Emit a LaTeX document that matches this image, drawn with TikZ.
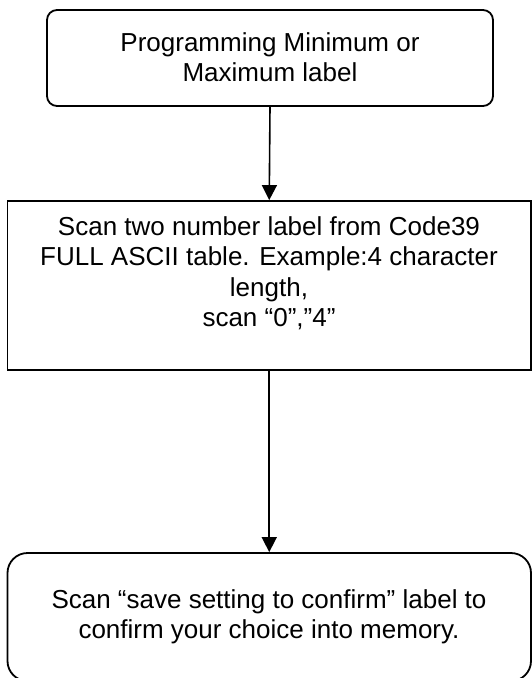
\documentclass[tikz,border=0pt]{standalone}
\usepackage{fontspec}
\setmainfont{Liberation Sans}
\usetikzlibrary{arrows.meta}
\begin{document}
\begin{tikzpicture}[x=1pt,y=-1pt,
  boxline/.style={draw=black, line width=1.8pt},
  txt/.style={align=center, inner sep=0pt, font=\fontsize{26}{30.5}\selectfont},
  conn/.style={draw=black, line width=1.6pt, -{Triangle[width=15pt,length=15pt]}}]
\useasboundingbox (0,0) rectangle (532,678);
\clip (0,0) rectangle (532,678);
\fill[white] (0,0) rectangle (532,678);
\node[boxline, rounded corners=10pt, minimum width=446pt, minimum height=96pt, inner sep=0pt] (b1) at (270,58) {};
\node[boxline, minimum width=523.5pt, minimum height=169pt, inner sep=0pt] (b2) at (269.25,285.5) {};
\node[boxline, rounded corners=20pt, minimum width=523.5pt, minimum height=128pt, inner sep=0pt] (b3) at (269.25,617) {};
\node[txt] (t1) at (270,57) {Programming Minimum or\\Maximum label};
\node[txt] (t2) at (269,273) {Scan two number label from Code39\\FULL ASCII table. Example:4 character\\length,\\scan “0”,”4”};
\node[txt] (t3) at (269,617) {Scan “save setting to confirm” label to\\confirm your choice into memory.};
\draw[conn] (b1.south) -- (b2.north);
\draw[conn] (b2.south) -- (b3.north);
\end{tikzpicture}
\end{document}
